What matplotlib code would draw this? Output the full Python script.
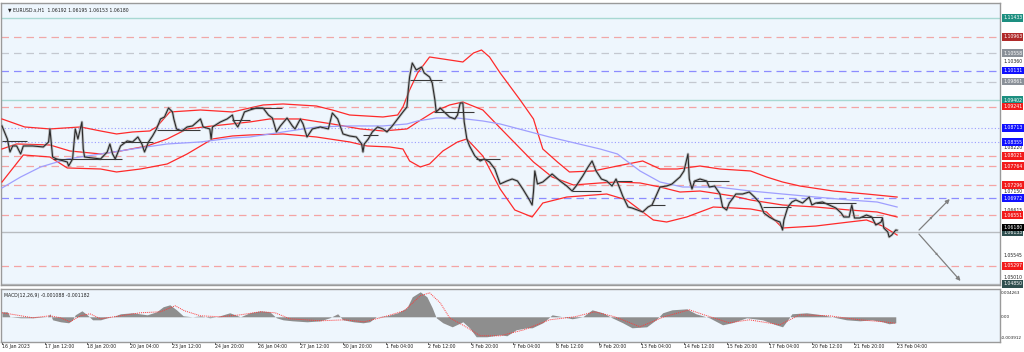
import matplotlib
matplotlib.use('Agg')
import matplotlib.pyplot as plt

# --- data (x = H1 bar index since 16 Jan 00:00) ---
price_bar = [0, 4, 6, 8, 11, 14, 16, 23, 31, 35, 36, 38, 41, 49, 50, 53, 55, 57, 60, 61, 62, 68, 74, 79, 81,
             83, 85, 89, 94, 98, 102, 105, 107, 110, 113, 116, 119, 122, 125, 128, 129, 131, 135, 139, 143,
             149, 151, 156, 157, 158, 164, 169, 173, 174, 177, 180, 182, 186,
             191, 196, 200, 203, 206, 209, 214, 218, 220, 224, 226, 229, 233, 239, 245, 248, 252, 256, 261,
             266, 270, 271, 272, 275, 278, 282, 286, 289, 293, 297, 301, 304, 305, 306, 308, 311, 315, 317,
             321, 323, 325, 326, 329, 332, 336, 340, 342, 344, 346, 347, 349, 351, 355, 359, 362, 366, 370, 374,
             379, 383, 387, 391, 396, 398, 399, 400, 402, 406, 413, 419, 424, 428, 431, 436, 440, 443, 446,
             450, 454, 458, 461, 464, 466, 470, 473, 477, 481, 485, 488, 491, 494, 499, 503, 509, 512, 515,
             516, 518, 520, 524, 529, 531, 535, 539, 541, 544, 546, 551, 556, 561,
             565, 569, 572, 576, 580, 584, 586, 587, 590, 593, 596, 601, 606, 608, 611, 616, 621, 626, 630,
             632, 636, 638, 640, 644, 649, 653, 656, 660, 661, 662, 665, 666, 668, 671, 672]
price = [1.08761, 1.08439, 1.08117, 1.08266, 1.08266, 1.08068, 1.08266, 1.08266, 1.08241, 1.08365, 1.08687,
         1.07993, 1.07944, 1.07869, 1.07770, 1.07944, 1.08687, 1.08439, 1.08860, 1.08191, 1.07993, 1.07968,
         1.07944, 1.08117, 1.08315, 1.08068, 1.07944, 1.08266, 1.08389, 1.08365, 1.08488, 1.08315, 1.08117,
         1.08365, 1.08513, 1.08687, 1.08934, 1.08983, 1.09206, 1.09107, 1.08934, 1.08687, 1.08637, 1.08736,
         1.08761, 1.08934, 1.08736, 1.08687, 1.08439, 1.08736, 1.08860, 1.08934, 1.09032, 1.08884, 1.08736,
         1.08934, 1.09107, 1.09156,
         1.09206, 1.09206, 1.09032, 1.08958, 1.08612, 1.08761, 1.08958, 1.08761, 1.08687, 1.08934, 1.08810,
         1.08488, 1.08687, 1.08736, 1.08687, 1.09082, 1.08934, 1.08563, 1.08513, 1.08488, 1.08315, 1.08117,
         1.08315, 1.08439, 1.08612, 1.08736, 1.08687, 1.08612, 1.08761, 1.08934, 1.09107, 1.09230, 1.09651,
         1.09973, 1.10319, 1.10146, 1.10220, 1.10072, 1.09973, 1.09824, 1.09404, 1.09107, 1.09206, 1.09107,
         1.08983, 1.08934, 1.09032, 1.09329, 1.09329, 1.08860, 1.08439, 1.08266, 1.08018, 1.07894, 1.07944,
         1.07869, 1.07696, 1.07325,
         1.07399, 1.07448, 1.07399, 1.07201, 1.06929, 1.06805, 1.07126, 1.07647, 1.07325, 1.07374, 1.07572,
         1.07399, 1.07275, 1.07151, 1.07275, 1.07523, 1.07746, 1.07894, 1.07647, 1.07448, 1.07399, 1.07275,
         1.07448, 1.07201, 1.07027, 1.06755, 1.06731, 1.06681, 1.06632, 1.06755, 1.06805, 1.07027, 1.07250,
         1.07275, 1.07325, 1.07498, 1.07647, 1.08068, 1.07448, 1.07201, 1.07399, 1.07448, 1.07399, 1.07250,
         1.07275, 1.07077, 1.06755, 1.06681, 1.06854, 1.07077, 1.07077, 1.07126,
         1.07002, 1.06854, 1.06607, 1.06508, 1.06434, 1.06384, 1.06186, 1.06434, 1.06755, 1.06879, 1.06929,
         1.06854, 1.07002, 1.06805, 1.06854, 1.06879, 1.06805, 1.06731, 1.06607, 1.06508, 1.06508, 1.06805,
         1.06483, 1.06483, 1.06557, 1.06508, 1.06310, 1.06384, 1.06483, 1.06236, 1.06137, 1.06013, 1.06062,
         1.06186, 1.06180]

bb_up_bar = [0, 17, 36, 59, 74, 86, 98, 111, 116, 126, 149, 173, 186, 196, 211, 236, 248, 261, 286, 297, 301,
             306, 312, 321, 336, 346, 354, 360, 366, 374, 389, 399, 406, 417, 426, 444, 462, 481, 494, 507,
             524, 539, 562, 574, 586, 599, 624, 649, 672]
bb_up = [1.08934, 1.08736, 1.08687, 1.08736, 1.08637, 1.08563, 1.08612, 1.08637, 1.08736, 1.09107, 1.09156,
         1.09107, 1.09206, 1.09280, 1.09305, 1.09255, 1.09156, 1.09032, 1.08983, 1.09032, 1.09230, 1.09651,
         1.10072, 1.10468, 1.10394, 1.10344, 1.10567, 1.10641, 1.10468, 1.10072, 1.09404, 1.08934, 1.08191,
         1.07869, 1.07622, 1.07647, 1.07770, 1.07894, 1.07696, 1.07696, 1.07770, 1.07696, 1.07647, 1.07498,
         1.07374, 1.07275, 1.07151, 1.07077, 1.07002]

bb_mid_bar = [0, 11, 36, 51, 74, 89, 109, 124, 139, 158, 186, 201, 224, 248, 269, 286, 304, 312, 324, 336,
              346, 361, 374, 399, 413, 429, 449, 462, 479, 494, 509, 524, 549, 562, 586, 611, 636, 657, 672]
bb_mid = [1.08191, 1.08315, 1.08290, 1.08142, 1.08068, 1.08142, 1.08266, 1.08439, 1.08687, 1.08761, 1.08860,
          1.08934, 1.08934, 1.08810, 1.08687, 1.08637, 1.08687, 1.08860, 1.09107, 1.09280, 1.09354, 1.09156,
          1.08711, 1.07869, 1.07498, 1.07300, 1.07350, 1.07374, 1.07350, 1.07250, 1.07126, 1.07151, 1.07027,
          1.06929, 1.06805, 1.06755, 1.06681, 1.06632, 1.06508]

bb_low_bar = [0, 16, 36, 49, 74, 86, 104, 124, 139, 158, 173, 186, 211, 236, 261, 274, 291, 301, 306, 314,
              321, 331, 342, 349, 361, 374, 385, 398, 406, 424, 454, 469, 489, 499, 514, 534, 549, 562, 574,
              586, 611, 636, 649, 661, 672]
bb_low = [1.07374, 1.08043, 1.07993, 1.07721, 1.07696, 1.07622, 1.07696, 1.07820, 1.08068, 1.08439, 1.08513,
          1.08538, 1.08563, 1.08488, 1.08365, 1.08266, 1.08241, 1.08191, 1.07894, 1.07746, 1.07820, 1.08142,
          1.08365, 1.08439, 1.08018, 1.07201, 1.06681, 1.06508, 1.06854, 1.07002, 1.07077, 1.06929, 1.06434,
          1.06384, 1.06508, 1.06755, 1.06731, 1.06706, 1.06632, 1.06236, 1.06285, 1.06384, 1.06434, 1.06285,
          1.06062]

ma_bar = [0, 14, 29, 49, 74, 98, 124, 149, 173, 186, 211, 236, 261, 286, 304, 312, 326, 342, 361, 374, 411,
          449, 462, 479, 494, 511, 537, 562, 586, 611, 636, 657, 672]
ma = [1.07226, 1.07498, 1.07746, 1.07944, 1.08068, 1.08191, 1.08315, 1.08365, 1.08464, 1.08488, 1.08612,
      1.08736, 1.08761, 1.08761, 1.08810, 1.08884, 1.08958, 1.08958, 1.08884, 1.08810, 1.08488, 1.08191,
      1.08068, 1.07647, 1.07374, 1.07250, 1.07250, 1.07151, 1.07077, 1.07002, 1.06929, 1.06879, 1.06755]

# horizontal black segments (start bar, end bar, price)
seg_start = [0, 38, 89, 116, 173, 186, 271, 306, 324, 356, 428, 462, 487, 519, 571, 611, 644]
seg_end = [19, 90, 113, 149, 186, 210, 282, 330, 354, 374, 450, 473, 498, 546, 592, 641, 661]
seg_price = [1.08389, 1.07944, 1.08365, 1.08662, 1.08909, 1.09206, 1.08538, 1.09899, 1.09107, 1.07944,
             1.07151, 1.07399, 1.06805, 1.07399, 1.06755, 1.06854, 1.06508]

# price levels drawn across the chart
level_price = [1.11433, 1.10963, 1.10558, 1.10131, 1.09861, 1.09402, 1.09241, 1.08713, 1.08355, 1.08021,
               1.07764, 1.07296, 1.06972, 1.06551, 1.06133, 1.05297, 1.04850]
level_kind = ['teal', 'dred', 'grey', 'blue', 'grey', 'teal', 'red', 'bluedot', 'bluedot', 'red',
              'red', 'red', 'blue', 'red', 'slate', 'red', 'slate']
# scale ticks that are not hidden behind the level labels
axis_ticks = [1.10360, 1.08220, 1.07150, 1.06615, 1.05545, 1.05010]
last_close = 1.06180

# projection arrows
arrow_from = (687, 1.06137)
arrow_up_to = (713, 1.07002)
arrow_dn_to = (721, 1.04874)

# MACD histogram + signal
macd_bar = [0, 4, 6, 14, 23, 34, 36, 38, 44, 50, 53, 55, 60, 64, 68, 74, 79, 83, 89, 98, 109, 116, 121, 126,
            131, 136, 143, 149, 156, 161, 171, 179, 186, 194, 201, 206, 211, 218, 229, 239, 246, 252, 256,
            264, 271, 276, 281, 289, 297, 304, 308, 314, 319, 323, 326, 331, 338, 346, 351, 356, 364, 374,
            379, 386, 394, 398, 406, 413, 421, 428, 436, 443, 451, 458, 466, 473, 484, 491, 496, 503, 514,
            521, 531, 541, 548, 559, 571, 581, 586, 591, 593, 604, 616, 623, 634, 644, 653, 661, 666, 671]
macd = [0.00091, 0.00091, 0.0, -0.00018, -0.00018, 0.0, 0.00055, -0.00055, -0.00091, -0.00109, -0.00055,
        0.00036, 0.00109, 0.00036, -0.00055, -0.00055, -0.00018, 0.0, 0.00055, 0.00073, 0.00036, 0.00091,
        0.00182, 0.00218, 0.00127, 0.00018, 0.0, 0.00018, -0.00018, 0.0, 0.00073, 0.0, 0.00073, 0.00109,
        0.00091, -0.00018, -0.00055, -0.00073, -0.00091, -0.00073, -0.00018, 0.00055, -0.00055, -0.00091,
        -0.00109, -0.00091, 0.0, 0.00018, 0.00073, 0.00164, 0.00363, 0.00454, 0.00363, 0.00164, -0.00018,
        -0.00109, -0.00182, -0.00091, -0.00200, -0.00363, -0.00363, -0.00327, -0.00345, -0.00236, -0.00200,
        -0.00200, -0.00109, 0.00036, 0.0, -0.00036, 0.0, 0.00127, 0.00073, -0.00018, -0.00109, -0.00200,
        -0.00182, -0.00055, 0.00073, 0.00127, 0.00145, 0.00055, -0.00018, -0.00145, -0.00109, -0.00018,
        -0.00055, -0.00145, -0.00182, -0.00018, 0.00055, 0.00073, 0.00036, 0.0, -0.00055, -0.00073,
        -0.00055, -0.00091, -0.00127, -0.00109]
signal_bar = [0, 10, 23, 36, 44, 51, 59, 66, 74, 89, 104, 119, 130, 137, 149, 164, 179, 194, 205, 216, 239,
              257, 272, 287, 302, 314, 321, 329, 336, 347, 359, 374, 392, 411, 430, 445, 460, 479, 497, 516,
              527, 546, 561, 584, 599, 621, 644, 662, 671]
signal = [0.00073, 0.00036, -0.00018, 0.00018, -0.00018, -0.00091, 0.00018, 0.00055, -0.00036, 0.00018,
          0.00073, 0.00091, 0.00200, 0.00109, 0.00018, 0.0, 0.00036, 0.00091, 0.00073, -0.00036, -0.00073,
          -0.00055, -0.00091, 0.0, 0.00109, 0.00382, 0.00436, 0.00254, -0.00018, -0.00164, -0.00345,
          -0.00345, -0.00236, -0.00055, 0.0, 0.00091, 0.0, -0.00182, 0.0, 0.00127, 0.00036, -0.00109,
          -0.00055, -0.00145, 0.00036, 0.00018, -0.00055, -0.00091, -0.00118]
macd_ticks = [0.004263, 0.0, -0.003912]
macd_tick_labels = ['0.004263', '0.00', '-0.003912']

date_labels = ['16 Jan 2023', '17 Jan 12:00', '18 Jan 20:00', '20 Jan 04:00', '23 Jan 12:00',
               '24 Jan 20:00', '26 Jan 04:00', '27 Jan 12:00', '30 Jan 20:00', '1 Feb 04:00',
               '2 Feb 12:00', '3 Feb 20:00', '7 Feb 04:00', '8 Feb 12:00', '9 Feb 20:00', '13 Feb 04:00',
               '14 Feb 12:00', '15 Feb 20:00', '17 Feb 04:00', '20 Feb 12:00', '21 Feb 20:00',
               '23 Feb 04:00']
date_step = 32  # bars between labels

# --- styles ---
LINE_STYLE = {
    'teal': ('#a8d8d3', '-', 1.0),
    'dred': ('#f0a8a8', (0, (6, 4)), 0.9),
    'red': ('#f4a4a4', (0, (6, 4)), 0.9),
    'grey': ('#c4c8d0', (0, (6, 4)), 0.9),
    'blue': ('#8c8cff', (0, (6, 4)), 0.9),
    'bluedot': ('#9c9cff', (0, (1, 2)), 0.8),
    'slate': ('#b8bcc0', '-', 1.0),
}
LABEL_COLOR = {'teal': '#1d8f80', 'dred': '#b02a2a', 'red': '#f21a1a', 'grey': '#8a9098',
               'blue': '#1010ff', 'bluedot': '#1010ff', 'slate': '#2f4f4f'}
BG = '#eef6fd'
W, H = 1024, 352
PX_PER_BAR = 1.332
X0 = 2  # pixel of bar 0
FS = 3.3


def px_to_bar(px):
    return (px - X0) / PX_PER_BAR


fig = plt.figure(figsize=(W / 100, H / 100), dpi=100, facecolor='white')
ax = fig.add_axes([1 / W, (H - 285) / H, 999 / W, 282 / H], facecolor=BG)
ax2 = fig.add_axes([1 / W, (H - 342) / H, 999 / W, 53 / H], facecolor=BG)

for a in (ax, ax2):
    a.set_xlim(px_to_bar(1), px_to_bar(1000))
    a.set_xticks([])
    a.set_yticks([])
    for s in a.spines.values():
        s.set_color('#9a9a9a')
        s.set_linewidth(1.0)

ax.set_ylim(1.04825, 1.11804)

# levels
for p, k in zip(level_price, level_kind):
    c, ls, lw = LINE_STYLE[k]
    ax.axhline(p, color=c, ls=ls, lw=lw, zorder=1)

# bands and MA
ax.plot(bb_up_bar, bb_up, color='#ff2a2a', lw=0.9, zorder=3)
ax.plot(bb_mid_bar, bb_mid, color='#ff2a2a', lw=0.9, zorder=3)
ax.plot(bb_low_bar, bb_low, color='#ff2a2a', lw=0.9, zorder=3)
ax.plot(ma_bar, ma, color='#9f9fff', lw=0.9, zorder=3)

# price
ax.plot(price_bar, price, color='#a0a0a0', lw=2.0, alpha=0.6, zorder=4)
ax.plot(price_bar, price, color='#2a2a2a', lw=0.8, zorder=5)
ax.hlines(seg_price, seg_start, seg_end, color='#3a3a3a', lw=0.8, zorder=5)

# projection arrows
for dest in (arrow_up_to, arrow_dn_to):
    ax.annotate('', xy=dest, xytext=arrow_from,
                arrowprops=dict(arrowstyle='-|>', color='#808080', lw=0.9, mutation_scale=6), zorder=6)
    mid = ((arrow_from[0] + dest[0]) / 2, (arrow_from[1] + dest[1]) / 2)
    ax.annotate('', xy=mid, xytext=arrow_from,
                arrowprops=dict(arrowstyle='-|>', color='#808080', lw=0.0, mutation_scale=5), zorder=6)

# right price scale
ytr = ax.get_yaxis_transform()
for t in axis_ticks:
    va = 'bottom' if t == 1.06615 else 'center'
    ax.text(1.003, t, f'{t:.5f}', transform=ytr, fontsize=FS, va=va, ha='left',
            color='#202020', clip_on=False)
for p, k in zip(level_price, level_kind):
    y = p - 0.00010 if k == 'slate' and p > 1.05 else p
    ax.text(1.003, y, f'{p:.5f}', transform=ytr, fontsize=FS, va='center', ha='left', color='white',
            clip_on=False, zorder=10,
            bbox=dict(boxstyle='square,pad=0.3', fc=LABEL_COLOR[k], ec='none'))
ax.text(1.003, last_close + 0.00008, f'{last_close:.5f}', transform=ytr, fontsize=FS, va='bottom',
        ha='left', color='white', clip_on=False, zorder=11,
        bbox=dict(boxstyle='square,pad=0.3', fc='black', ec='none'))

ax.text(0.007, 0.985, '\u25bc EURUSD.s,H1  1.06192 1.06195 1.06153 1.06180', transform=ax.transAxes,
        fontsize=FS, va='top', ha='left', color='#202020')

# MACD panel
ax2.set_ylim(-0.00458, 0.00505)
ax2.fill_between(macd_bar, 0, macd, color='#8e8e8e', lw=0, zorder=2)
ax2.plot(signal_bar, signal, color='#ff3a3a', lw=0.7, ls=(0, (1, 1)), zorder=3)
ax2.text(0.003, 0.93, 'MACD(12,26,9) -0.001088 -0.001182', transform=ax2.transAxes, fontsize=FS,
         va='top', ha='left', color='#202020')
ytr2 = ax2.get_yaxis_transform()
for v, lbl in zip(macd_ticks, macd_tick_labels):
    ax2.text(1.001, v, lbl, transform=ytr2, fontsize=3.0, va='center', ha='left', color='#202020',
             clip_on=False)

# time axis
xtr = ax2.get_xaxis_transform()
for i, lbl in enumerate(date_labels):
    b = i * date_step
    ax2.text(b, -0.04, lbl, transform=xtr, fontsize=FS, va='top', ha='left', color='#202020',
             clip_on=False)
    ax2.plot([b, b], [0, -0.03], transform=xtr, color='#404040', lw=0.6, clip_on=False)

fig.savefig('out.png', dpi=100, facecolor='white')
